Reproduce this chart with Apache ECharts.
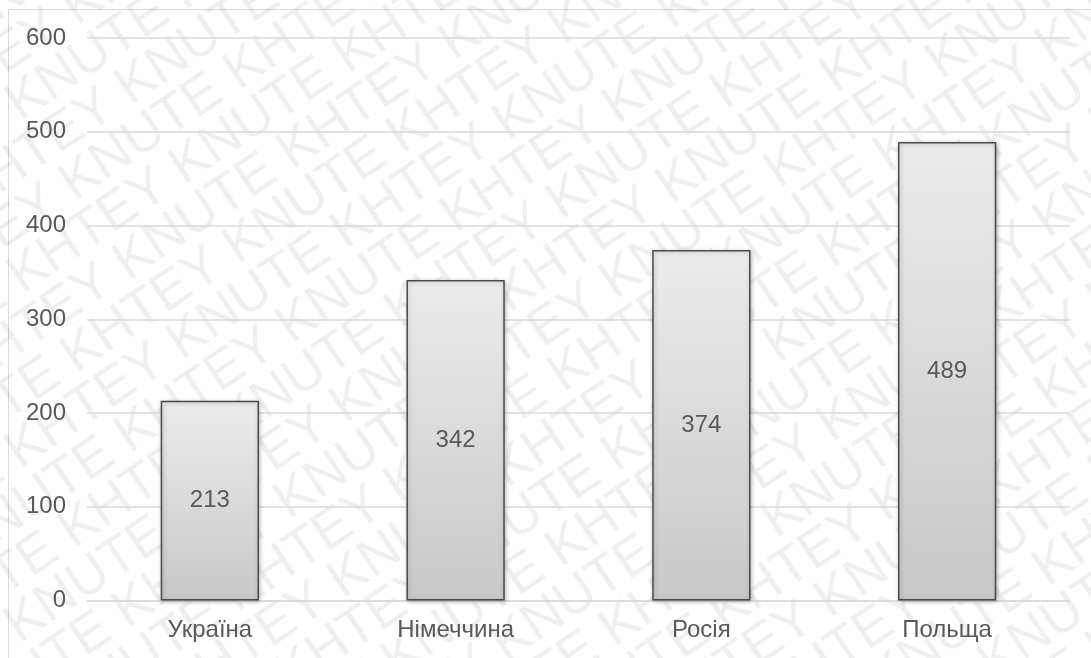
<!DOCTYPE html>
<html>
<head>
<meta charset="utf-8">
<script src="https://cdn.jsdelivr.net/npm/echarts@6/dist/echarts.min.js"></script>
<style>
html,body{margin:0;padding:0;background:#fff;}
#chart{width:1091px;height:658px;}
</style>
</head>
<body>
<div id="chart"></div>
<script>
var categories = ['Україна', 'Німеччина', 'Росія', 'Польща'];
var values = [213, 342, 374, 489];
var yTicks = [0, 100, 200, 300, 400, 500, 600];
var watermarkWords = 'KHTEY KNUTE ';

var chart = echarts.init(document.getElementById('chart'), null, {renderer: 'canvas'});

// watermark rows
var wmChildren = [];
var rowStep = 48;
var line = '';
for (var i = 0; i < 12; i++) line += watermarkWords;
for (var r = -13; r <= 13; r++) {
  wmChildren.push({
    type: 'text',
    x: -1300 + ((r % 2 + 2) % 2) * 100,
    y: r * rowStep,
    silent: true,
    style: {
      text: line,
      font: '54px "Liberation Sans", Arial, sans-serif',
      fill: 'rgba(0,0,0,0.062)',
      textVerticalAlign: 'middle'
    }
  });
}

var option = {
  backgroundColor: '#ffffff',
  animation: false,
  textStyle: {fontFamily: '"Liberation Sans", Arial, sans-serif'},
  grid: {left: 87, right: 21, top: 38, bottom: 57.5, containLabel: false},
  xAxis: {
    type: 'category',
    data: categories,
    axisLine: {show: true, lineStyle: {color: '#d9d9d9', width: 1.5}},
    axisTick: {show: false},
    axisLabel: {color: '#595959', fontSize: 24, margin: 18, fontFamily: '"Liberation Sans", Arial, sans-serif'}
  },
  yAxis: {
    type: 'value',
    min: yTicks[0],
    max: yTicks[yTicks.length - 1],
    interval: yTicks[1] - yTicks[0],
    axisLine: {show: false},
    axisTick: {show: false},
    splitLine: {lineStyle: {color: '#d9d9d9', width: 1.5}},
    axisLabel: {color: '#595959', fontSize: 24, margin: 21, fontFamily: '"Liberation Sans", Arial, sans-serif'}
  },
  series: [{
    type: 'bar',
    data: values,
    barWidth: '40%',
    itemStyle: {
      color: new echarts.graphic.LinearGradient(0, 0, 0, 1, [
        {offset: 0, color: '#ececec'},
        {offset: 1, color: '#c8c8c8'}
      ]),
      borderColor: '#4a4a4a',
      borderWidth: 1.5,
      shadowBlur: 4,
      shadowColor: 'rgba(0,0,0,0.25)',
      shadowOffsetX: 1,
      shadowOffsetY: 1
    },
    label: {
      show: true,
      position: 'inside',
      color: '#595959',
      fontSize: 24,
      fontFamily: '"Liberation Sans", Arial, sans-serif'
    }
  }],
  graphic: [
    {
      type: 'rect',
      silent: true,
      z: -1,
      shape: {x: 8.5, y: 9.5, width: 1200, height: 800},
      style: {fill: 'none', stroke: '#d9d9d9', lineWidth: 1}
    },
    {
      type: 'group',
      x: 545,
      y: 329,
      rotation: 34 * Math.PI / 180,
      silent: true,
      z: 100,
      children: wmChildren
    }
  ]
};
chart.setOption(option);
</script>
</body>
</html>
